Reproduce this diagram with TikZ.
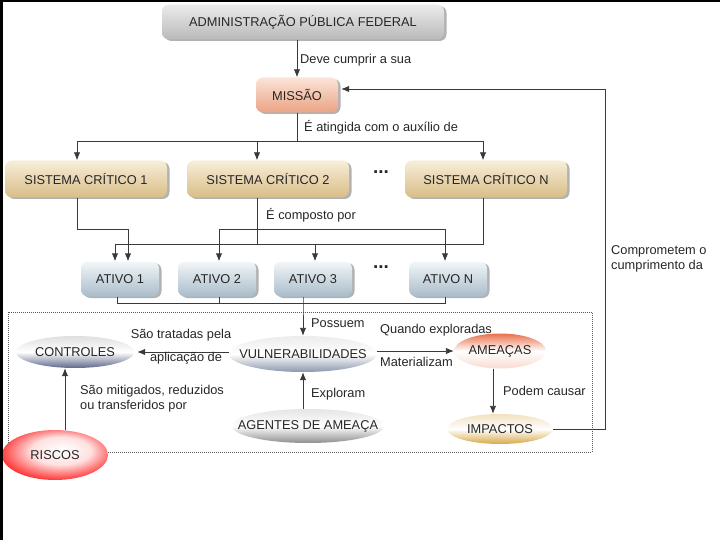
\documentclass[tikz,border=0pt]{standalone}
\usepackage{fontspec}
\setmainfont{Liberation Sans}
\usetikzlibrary{shapes.geometric,shadows,arrows.meta}

\definecolor{linha}{HTML}{3A3A3A}
\definecolor{admtop}{HTML}{ECECEC}
\definecolor{admbot}{HTML}{B9B9B9}
\definecolor{misstop}{HTML}{FBE4D8}
\definecolor{missbot}{HTML}{EBA384}
\definecolor{sctop}{HTML}{F8EEDA}
\definecolor{scbot}{HTML}{D8BD86}
\definecolor{attop}{HTML}{F2F6F8}
\definecolor{atbot}{HTML}{A9BCCA}
\definecolor{ctlbot}{HTML}{5E6788}
\definecolor{vulbot}{HTML}{8C98AE}
\definecolor{ameatop}{HTML}{E8704A}
\definecolor{impbot}{HTML}{D8A848}
\definecolor{agbot}{HTML}{8E8E8E}
\pgfdeclareradialshading{riscosshade}{\pgfpoint{4bp}{6bp}}{color(0bp)=(white); color(14bp)=(red!12); color(28bp)=(red!80); color(38bp)=(red!55!brown); color(50bp)=(brown!40!gray)}
\newcommand{\nowd}[1]{\makebox[0pt]{#1}}

\begin{document}
\begin{tikzpicture}[x=1pt, y=-1pt, font=\fontsize{12.8}{15}\selectfont,
	>={Latex[length=8pt,width=6.5pt]},
	rbox/.style={rounded corners=7pt, minimum height=35pt, inner sep=0pt, text=black!85,
		drop shadow={shadow xshift=2.5pt, shadow yshift=-1.5pt, fill=black!60}},
	scbox/.style={rbox, top color=sctop, bottom color=scbot, minimum width=162pt, minimum height=37pt},
	atbox/.style={rbox, top color=attop, bottom color=atbot, minimum width=78pt},
	oval/.style={ellipse, inner sep=0pt, text=black!85},
	conn/.style={draw=linha, line width=0.9pt},
	lbl/.style={text=black!85, inner sep=0pt},
	dots/.style={font=\bfseries\fontsize{19}{20}\selectfont, text=black!85}]
	\useasboundingbox (0,0) rectangle (720,540);
	\draw [densely dotted, draw=gray!70!black, line width=1pt] (8,312) rectangle (592,452);

	\node[rbox, top color=admtop, bottom color=admbot, minimum width=282pt] (adm) at (303,22) {ADMINISTRAÇÃO PÚBLICA FEDERAL};
	\node[rbox, top color=misstop, bottom color=missbot, minimum width=82pt] (missao) at (297,95) {MISSÃO};

	\node[scbox] (sc1) at (86,179) {SISTEMA CRÍTICO 1};
	\node[scbox] (sc2) at (268,179) {SISTEMA CRÍTICO 2};
	\node[scbox] (sc3) at (486,179) {SISTEMA CRÍTICO N};
	\node[dots] (dots1) at (381,172) {...};

	\node[atbox] (a1) at (120,279) {ATIVO 1};
	\node[atbox] (a2) at (217,279) {ATIVO 2};
	\node[atbox] (a3) at (313,279) {ATIVO 3};
	\node[atbox] (an) at (448,279) {ATIVO N};
	\node[dots] (dots2) at (381,267) {...};

	\node[oval, minimum width=118pt, minimum height=32pt, top color=gray!25, bottom color=ctlbot, middle color=white] (ctl) at (75,352) {\nowd{CONTROLES}};
	\node[oval, minimum width=148pt, minimum height=36pt, top color=gray!15, bottom color=vulbot, middle color=white] (vul) at (303,354) {\nowd{VULNERABILIDADES}};
	\node[oval, minimum width=92pt, minimum height=35pt, top color=ameatop, bottom color=ameatop!25, middle color=white] (ame) at (500,351) {\nowd{AMEAÇAS}};
	\node[oval, minimum width=152pt, minimum height=34pt, top color=gray!20, bottom color=agbot, middle color=white] (ag) at (308,426) {\nowd{AGENTES DE AMEAÇA}};
	\node[oval, minimum width=106pt, minimum height=30pt, top color=impbot!35, bottom color=impbot, middle color=white] (imp) at (500,429) {\nowd{IMPACTOS}};
	\node[oval, minimum width=106pt, minimum height=50pt, shading=riscosshade] (ris) at (55,455) {\nowd{RISCOS}};

	\coordinate (b1) at (77,141);
	\coordinate (b2) at (257,141);
	\coordinate (b3) at (483,141);
	\coordinate (c1) at (77,229);
	\coordinate (c2) at (128,229);
	\coordinate (d1) at (219,229);
	\coordinate (d2) at (445,229);
	\coordinate (e1) at (115,244);
	\coordinate (e2) at (315,244);
	\coordinate (f1) at (117,303);
	\coordinate (f2) at (445,303);
	\coordinate (f3) at (303,303);
	\coordinate (h) at (65,0);
	\coordinate (k1) at (605,429);
	\coordinate (k2) at (605,89);

	\draw [conn,->] (adm.south -| missao) -- (missao);
	\node[lbl, anchor=west] (l1) at (300,60) {Deve cumprir a sua};

	\draw [conn] (missao) -- (missao |- b1);
	\draw [conn] (b1) -- (b3);
	\draw [conn,->] (b1) -- (b1 |- sc1.north);
	\draw [conn,->] (b2) -- (b2 |- sc2.north);
	\draw [conn,->] (b3) -- (b3 |- sc3.north);
	\node[lbl, anchor=west] (l2) at (304,127) {É atingida com o auxílio de};

	\draw [conn,->] (b1 |- sc1.south) -- (c1) -- (c2) -- (c2 |- a1.north);
	\draw [conn,<->] (d1 |- a2.north) -- (d1) -- (d2) -- (d2 |- an.north);
	\draw [conn] (b2 |- sc2.south) -- (b2 |- e1);
	\draw [conn,->] (b3 |- sc3.south) -- (b3 |- e1) -- (e1) -- (e1 |- a1.north);
	\draw [conn,->] (e2) -- (e2 |- a3.north);
	\node[lbl, anchor=west] (l3) at (266,215) {É composto por};

	\draw [conn] (f1 |- a1.south) -- (f1) -- (f2) -- (f2 |- an.south);
	\draw [conn] (d1 |- a2.south) -- (d1 |- f1);
	\draw [conn,->] (f3 |- a3.south) -- (f3) -- (f3 |- vul.north);
	\node[lbl, anchor=west] (l4) at (311,323) {Possuem};

	\draw [conn,->] (ctl.east -| vul.west) -- ([xshift=3pt]ctl.east);
	\node[lbl] (l5) at (181,335) {São tratadas pela};
	\node[lbl] (l6) at (186,358) {aplicação de};

	\draw [conn,->] (vul.east |- ame.west) -- (ame.west);
	\node[lbl, anchor=west] (l7) at (380,330) {Quando exploradas};
	\node[lbl, anchor=west] (l8) at (380,362) {Materializam};

	\draw [conn,->] ([xshift=-7pt]ame.south) -- ([xshift=-7pt]imp.north);
	\node[lbl, anchor=west] (l9) at (503,391) {Podem causar};

	\draw [conn,->] (ag.north -| vul.south) -- (vul.south);
	\node[lbl, anchor=west] (l10) at (311,394) {Exploram};

	\draw [conn,->] (h |- ris.north) -- (h |- ctl.south);
	\node[lbl, anchor=west, align=left] (l11) at (80,399) {São mitigados, reduzidos\\ou transferidos por};

	\draw [conn,->,shorten >=3pt] (imp.east) -- (k1) -- (k2) -- (k2 -| missao.east);
	\node[lbl, anchor=west, align=left] (l12) at (611,259) {Comprometem o\\cumprimento da};

	\fill[black] (0,0) rectangle (720,2.5);
	\fill[black] (0,0) rectangle (3,540);
\end{tikzpicture}
\end{document}
